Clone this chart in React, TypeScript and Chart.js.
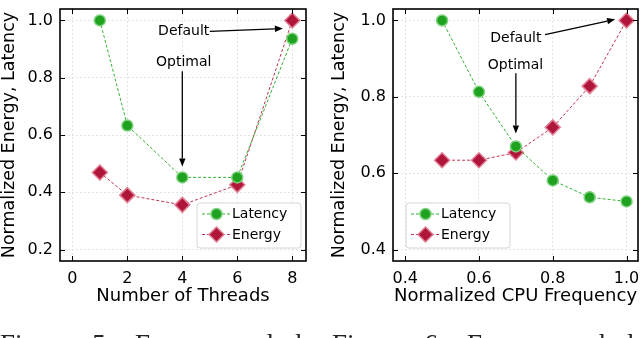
import React, { useEffect, useRef } from 'react';
import { Chart, registerables } from 'chart.js';

Chart.register(...registerables);

// ---------- data ----------
const threadCounts = [1, 2, 4, 6, 8];
const threadLatency = [1.0, 0.633, 0.452, 0.452, 0.936];
const threadEnergy = [0.469, 0.39, 0.356, 0.426, 1.0];

const cpuFreqs = [0.5, 0.6, 0.7, 0.8, 0.9, 1.0];
const freqLatency = [1.0, 0.813, 0.67, 0.581, 0.537, 0.526];
const freqEnergy = [0.634, 0.634, 0.654, 0.72, 0.828, 1.0];

const threadTicksX = [0, 2, 4, 6, 8];
const threadTicksY = [0.2, 0.4, 0.6, 0.8, 1.0];
const freqTicksX = [0.4, 0.6, 0.8, 1.0];
const freqTicksY = [0.4, 0.6, 0.8, 1.0];

const seriesNames = ['Latency', 'Energy'];
const yTitle = 'Normalized Energy, Latency';
const xTitles = ['Number of Threads', 'Normalized CPU Frequency'];
const captions = ['Figure 5: Energy and latency', 'Figure 6: Energy and latency'];

// ---------- styles ----------
const FONT = "'DejaVu Sans', sans-serif";
const GREEN_FILL = '#1fa21f';
const GREEN_EDGE = '#7fd27f';
const GREEN_LINE = '#35b035';
const RED_FILL = '#b0163a';
const RED_EDGE = '#e27e94';
const RED_LINE = '#c23450';

type Annot = { text: string; tx: number; ty: number; ax0: number; ay0: number; ax1: number; ay1: number };

interface Panel {
  left: number;
  width: number;
  height: number;
  xs: number[];
  lat: number[];
  en: number[];
  xTicks: number[];
  yTicks: number[];
  xMin: number; xMax: number; yMin: number; yMax: number;
  xDecimals: number;
  xTitle: string;
  yAxisWidth: number;
  padTop: number;
  padRight: number;
  xAxisHeight: number;
  yTitlePad: number;
  legendSide: 'left' | 'right';
  legendDx: number;
  legendDy: number;
  annots: Annot[];
}

const panels: Panel[] = [
  {
    left: 0, width: 320, height: 310,
    xs: threadCounts, lat: threadLatency, en: threadEnergy,
    xTicks: threadTicksX, yTicks: threadTicksY,
    xMin: -0.45, xMax: 8.5, yMin: 0.16, yMax: 1.04,
    xDecimals: 0, xTitle: xTitles[0],
    yAxisWidth: 60, padTop: 2, padRight: 14, xAxisHeight: 49, yTitlePad: 0,
    legendSide: 'right', legendDx: 5, legendDy: 13,
    annots: [
      { text: 'Default', tx: 4.05, ty: 0.962, ax0: 5.0, ay0: 0.962, ax1: 7.66, ay1: 0.972 },
      { text: 'Optimal', tx: 4.05, ty: 0.854, ax0: 4.0, ay0: 0.823, ax1: 4.0, ay1: 0.49 },
    ],
  },
  {
    left: 320, width: 340, height: 310,
    xs: cpuFreqs, lat: freqLatency, en: freqEnergy,
    xTicks: freqTicksX, yTicks: freqTicksY,
    xMin: 0.367, xMax: 1.031, yMin: 0.37, yMax: 1.03,
    xDecimals: 1, xTitle: xTitles[1],
    yAxisWidth: 73, padTop: 2, padRight: 22, xAxisHeight: 49, yTitlePad: 10,
    legendSide: 'left', legendDx: 13, legendDy: 13,
    annots: [
      { text: 'Default', tx: 0.70, ty: 0.954, ax0: 0.779, ay0: 0.963, ax1: 0.969, ay1: 1.003 },
      { text: 'Optimal', tx: 0.699, ty: 0.882, ax0: 0.7, ay0: 0.862, ax1: 0.7, ay1: 0.704 },
    ],
  },
];

function drawArrow(ctx: CanvasRenderingContext2D, x0: number, y0: number, x1: number, y1: number) {
  const ang = Math.atan2(y1 - y0, x1 - x0);
  const headLen = 8;
  const headW = 3.2;
  const bx = x1 - Math.cos(ang) * headLen;
  const by = y1 - Math.sin(ang) * headLen;
  ctx.beginPath();
  ctx.moveTo(x0, y0);
  ctx.lineTo(bx, by);
  ctx.stroke();
  ctx.beginPath();
  ctx.moveTo(x1, y1);
  ctx.lineTo(bx - Math.sin(ang) * headW, by + Math.cos(ang) * headW);
  ctx.lineTo(bx + Math.sin(ang) * headW, by - Math.cos(ang) * headW);
  ctx.closePath();
  ctx.fill();
}

function makePlugin(p: Panel) {
  return {
    id: 'decor',
    afterDraw(chart: any) {
      const ctx: CanvasRenderingContext2D = chart.ctx;
      const { left, right, top, bottom } = chart.chartArea;
      const xs = chart.scales.x;
      const ys = chart.scales.y;
      ctx.save();
      // inward ticks
      ctx.strokeStyle = '#000';
      ctx.lineWidth = 1;
      ctx.setLineDash([]);
      const tl = 5;
      xs.ticks.forEach((t: any) => {
        const px = Math.round(xs.getPixelForValue(t.value)) + 0.5;
        ctx.beginPath();
        ctx.moveTo(px, bottom); ctx.lineTo(px, bottom - tl);
        ctx.moveTo(px, top); ctx.lineTo(px, top + tl);
        ctx.stroke();
      });
      ys.ticks.forEach((t: any) => {
        const py = Math.round(ys.getPixelForValue(t.value)) + 0.5;
        ctx.beginPath();
        ctx.moveTo(left, py); ctx.lineTo(left + tl, py);
        ctx.moveTo(right, py); ctx.lineTo(right - tl, py);
        ctx.stroke();
      });
      // frame
      ctx.lineWidth = 1.6;
      ctx.strokeRect(left, top, right - left, bottom - top);

      // annotations
      ctx.font = `14px ${FONT}`;
      ctx.fillStyle = '#000';
      ctx.strokeStyle = '#000';
      ctx.lineWidth = 1.3;
      ctx.textAlign = 'center';
      ctx.textBaseline = 'middle';
      p.annots.forEach((a) => {
        ctx.fillText(a.text, xs.getPixelForValue(a.tx), ys.getPixelForValue(a.ty));
        drawArrow(
          ctx,
          xs.getPixelForValue(a.ax0), ys.getPixelForValue(a.ay0),
          xs.getPixelForValue(a.ax1), ys.getPixelForValue(a.ay1)
        );
      });

      // legend
      const w = 104;
      const h = 45;
      const bx = p.legendSide === 'right' ? right - p.legendDx - w : left + p.legendDx;
      const by = bottom - p.legendDy - h;
      ctx.beginPath();
      const r = 3;
      ctx.moveTo(bx + r, by);
      ctx.arcTo(bx + w, by, bx + w, by + h, r);
      ctx.arcTo(bx + w, by + h, bx, by + h, r);
      ctx.arcTo(bx, by + h, bx, by, r);
      ctx.arcTo(bx, by, bx + w, by, r);
      ctx.closePath();
      ctx.fillStyle = 'rgba(255,255,255,0.85)';
      ctx.fill();
      ctx.strokeStyle = '#d6d6d6';
      ctx.lineWidth = 1;
      ctx.stroke();
      chart.data.datasets.forEach((ds: any, i: number) => {
        const cy = by + 11 + i * 20.5;
        ctx.strokeStyle = ds.borderColor;
        ctx.lineWidth = 1;
        ctx.setLineDash([3, 2]);
        ctx.beginPath();
        ctx.moveTo(bx + 5, cy);
        ctx.lineTo(bx + 33, cy);
        ctx.stroke();
        ctx.setLineDash([]);
        const mx = bx + 19.5;
        ctx.fillStyle = ds.pointBackgroundColor;
        ctx.strokeStyle = ds.pointBorderColor;
        ctx.lineWidth = ds.pointBorderWidth;
        ctx.beginPath();
        if (ds.pointStyle === 'rectRot') {
          const rr = ds.pointRadius;
          ctx.moveTo(mx, cy - rr);
          ctx.lineTo(mx + rr, cy);
          ctx.lineTo(mx, cy + rr);
          ctx.lineTo(mx - rr, cy);
          ctx.closePath();
        } else {
          ctx.arc(mx, cy, ds.pointRadius, 0, Math.PI * 2);
        }
        ctx.fill();
        ctx.stroke();
        ctx.fillStyle = '#000';
        ctx.font = `14px ${FONT}`;
        ctx.textAlign = 'left';
        ctx.textBaseline = 'middle';
        ctx.fillText(ds.label, bx + 35, cy + 0.5);
      });
      ctx.restore();
    },
  };
}

function PanelChart({ p }: { p: Panel }) {
  const ref = useRef<HTMLCanvasElement | null>(null);
  useEffect(() => {
    if (!ref.current) return;
    const chart = new Chart(ref.current, {
      type: 'line',
      data: {
        datasets: [
          {
            label: seriesNames[0],
            data: p.xs.map((x, i) => ({ x, y: p.lat[i] })),
            borderColor: GREEN_LINE,
            borderWidth: 1,
            borderDash: [3, 2],
            pointStyle: 'circle',
            pointRadius: 5.5,
            pointBorderWidth: 1.5,
            pointBackgroundColor: GREEN_FILL,
            pointBorderColor: GREEN_EDGE,
            fill: false,
            tension: 0,
          },
          {
            label: seriesNames[1],
            data: p.xs.map((x, i) => ({ x, y: p.en[i] })),
            borderColor: RED_LINE,
            borderWidth: 1,
            borderDash: [3, 2],
            pointStyle: 'rectRot',
            pointRadius: 7.5,
            pointBorderWidth: 1.5,
            pointBackgroundColor: RED_FILL,
            pointBorderColor: RED_EDGE,
            fill: false,
            tension: 0,
          },
        ],
      },
      options: {
        animation: false,
        responsive: false,
        devicePixelRatio: 1,
        layout: { padding: { top: p.padTop, right: p.padRight, left: 0, bottom: 0 } },
        plugins: { legend: { display: false }, tooltip: { enabled: false } },
        scales: {
          x: {
            type: 'linear',
            min: p.xMin,
            max: p.xMax,
            afterBuildTicks: (s: any) => { s.ticks = p.xTicks.map((v) => ({ value: v })); },
            afterFit: (s: any) => { s.height = p.xAxisHeight; s.paddingLeft = 0; s.paddingRight = 0; },
            grid: { color: '#e4e4e4', lineWidth: 1, drawTicks: false },
            border: { display: false, dash: [2, 2] },
            ticks: {
              padding: 8,
              color: '#000',
              font: { family: FONT, size: 16 },
              callback: (v: any) => Number(v).toFixed(p.xDecimals),
            },
            title: {
              display: true,
              text: p.xTitle,
              color: '#000',
              font: { family: FONT, size: 18 },
              padding: { top: 0, bottom: 3 },
            },
          },
          y: {
            type: 'linear',
            min: p.yMin,
            max: p.yMax,
            afterBuildTicks: (s: any) => { s.ticks = p.yTicks.map((v) => ({ value: v })); },
            afterFit: (s: any) => { s.width = p.yAxisWidth; s.paddingTop = 0; s.paddingBottom = 0; },
            grid: { color: '#e4e4e4', lineWidth: 1, drawTicks: false },
            border: { display: false, dash: [2, 2] },
            ticks: {
              padding: 7,
              color: '#000',
              font: { family: FONT, size: 16 },
              callback: (v: any) => Number(v).toFixed(1),
            },
            title: {
              display: true,
              text: yTitle,
              color: '#000',
              font: { family: FONT, size: 17.5 },
              padding: { top: p.yTitlePad - 1, bottom: 0 },
            },
          },
        },
      },
      plugins: [makePlugin(p)],
    } as any);
    return () => chart.destroy();
  }, [p]);
  return (
    <canvas
      ref={ref}
      width={p.width}
      height={p.height}
      style={{ position: 'absolute', left: p.left, top: 0, width: p.width, height: p.height }}
    />
  );
}

export default function App() {
  return (
    <div
      style={{
        position: 'fixed',
        left: 0,
        top: 0,
        width: 640,
        height: 338,
        overflow: 'hidden',
        background: '#fff',
      }}
    >
      {panels.map((p, i) => (
        <PanelChart key={i} p={p} />
      ))}
      {captions.map((c, i) => (
        <div
          key={'c' + i}
          style={{
            position: 'absolute',
            left: i === 0 ? 0 : 332,
            top: 331,
            width: i === 0 ? 308 : 308,
            overflow: 'hidden',
            fontFamily: "'Liberation Serif', serif",
            fontSize: 27,
            lineHeight: '27px',
            wordSpacing: 15,
            whiteSpace: 'nowrap',
            color: '#222',
            filter: 'grayscale(1)',
            opacity: 0.99,
          }}
        >
          {c}
        </div>
      ))}
    </div>
  );
}
